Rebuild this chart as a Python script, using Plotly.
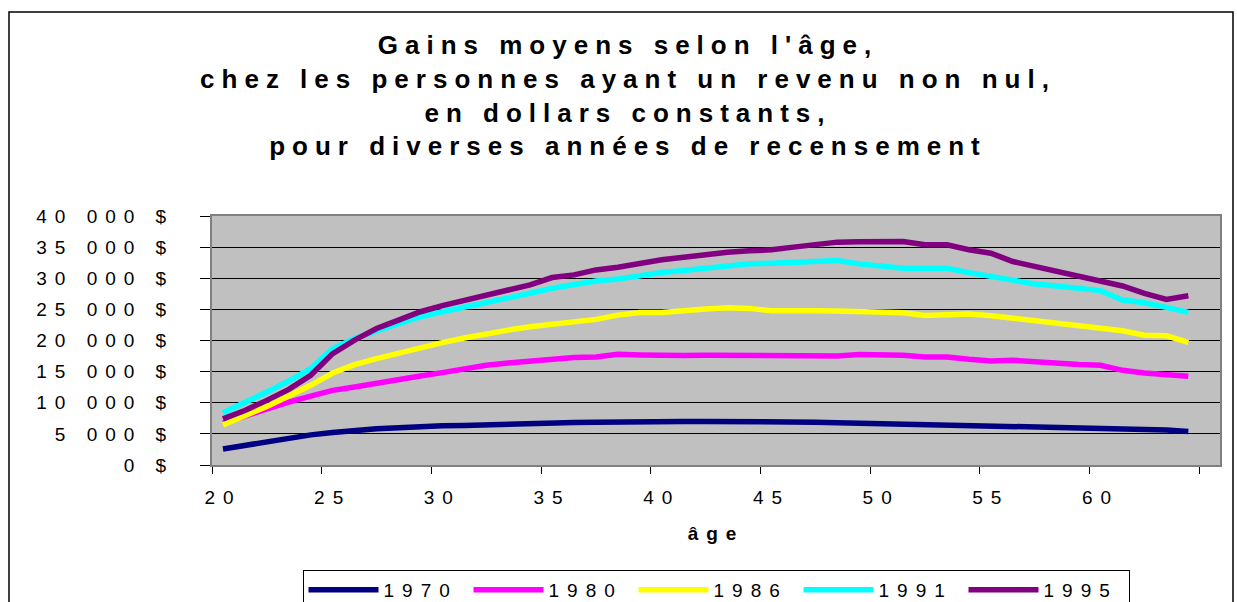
import plotly.graph_objects as go

ages = list(range(20, 65))

gains_1970 = [2580, 3170, 3760, 4300, 4840, 5210, 5540, 5810, 5970, 6180,
              6290, 6340, 6480, 6610, 6700, 6770, 6830, 6880, 6960, 7040,
              7040, 6990, 6990, 7000, 7000, 6990, 6940, 6880, 6800, 6720,
              6660, 6610, 6610, 6610, 6480, 6340, 6260, 6180, 6050, 5910,
              5860, 5810, 5720, 5640, 5380]
gains_1980 = [6720, 7900, 9030, 10110, 11070, 11990, 12530, 13170, 13760, 14300,
              14840, 15480, 16020, 16400, 16720, 16990, 17260, 17360, 17790, 17690,
              17530, 17580, 17630, 17630, 17470, 17630, 17530, 17630, 17530, 17740,
              17790, 17630, 17360, 17360, 16990, 16720, 16830, 16560, 16290, 16130,
              16020, 15210, 14780, 14520, 14250]
gains_1986 = [6450, 7850, 9410, 11070, 12800, 14780, 16130, 17100, 18010, 18820,
              19650, 20400, 21130, 21670, 22200, 22630, 23170, 23390, 24080, 24510,
              24510, 24890, 25050, 25270, 25160, 24780, 24890, 24780, 24730, 24620,
              24350, 24460, 24030, 24250, 24250, 23980, 23550, 23170, 22900, 22470,
              21830, 21560, 20860, 20750, 19680]
gains_1991 = [8390, 10000, 11720, 13490, 15480, 18710, 20320, 21560, 22740, 23820,
              24620, 25320, 26070, 26770, 27580, 28390, 29080, 29570, 29890, 30430,
              30910, 31230, 31610, 32150, 32310, 32420, 32580, 32520, 32850, 32310,
              31990, 31610, 31610, 31610, 30910, 30270, 29840, 29080, 28760, 28390,
              28010, 26500, 26070, 25320, 24510]
gains_1995 = [7420, 8760, 10380, 12150, 14410, 17900, 20050, 21930, 23280, 24620,
              25600, 26500, 27310, 28120, 28920, 30110, 30540, 31340, 31770, 32420,
              32960, 33380, 33870, 34190, 34400, 34570, 35000, 35480, 35800, 35850,
              35910, 35910, 35370, 35370, 34570, 34030, 32690, 31880, 31070, 30270,
              29460, 28760, 27580, 26610, 27200]

years = ["1970", "1980", "1986", "1991", "1995"]
colors = ["#000080", "#FF00FF", "#FFFF00", "#00FFFF", "#800080"]

y_ticks = [0, 5000, 10000, 15000, 20000, 25000, 30000, 35000, 40000]
y_labels = ["0 $", "5 000 $", "10 000 $", "15 000 $", "20 000 $",
            "25 000 $", "30 000 $", "35 000 $", "40 000 $"]
x_ticks = [20, 25, 30, 35, 40, 45, 50, 55, 60]

title_lines = [
    "Gains moyens selon l'âge,",
    "chez les personnes ayant un revenu non nul,",
    "en dollars constants,",
    "pour diverses années de recensement",
]

SANS = "Liberation Sans, Arial, sans-serif"


def spaced(text, px):
    return f'<span style="letter-spacing:{px}px">{text}</span>'


# pixel geometry of the plot area
L, R, T, B = 212, 1220, 216, 465


def px_x(p):
    return (p - L) / (R - L)


def px_y(p):
    return (B - p) / (B - T)


fig = go.Figure()
for yr, col, vals in zip(years, colors,
                         [gains_1970, gains_1980, gains_1986, gains_1991, gains_1995]):
    fig.add_trace(go.Scatter(
        x=ages, y=vals, mode="lines", name=spaced(yr, 8),
        line=dict(color=col, width=5.5),
    ))

fig.update_layout(
    width=1237, height=602,
    paper_bgcolor="white",
    plot_bgcolor="#C0C0C0",
    margin=dict(l=L, r=1237 - R, t=T, b=602 - B, autoexpand=False),
    font=dict(family=SANS, size=19, color="black"),
    title=dict(
        text="<br>".join(spaced(t, 7) for t in title_lines),
        font=dict(family=SANS, size=26, color="black", weight="bold"),
        x=628 / 1237, xanchor="center", xref="container",
        y=1 - 54 / 602, yanchor="top", yref="container",
    ),
    legend=dict(
        orientation="h", x=0.5, xanchor="center", y=px_y(570), yanchor="top",
        bordercolor="black", borderwidth=1, bgcolor="white",
        font=dict(family=SANS, size=19),
        entrywidth=80, itemwidth=70,
    ),
    showlegend=True,
)

fig.update_xaxes(
    range=[19.5, 19.5 + (R - L) / 21.94], automargin=False,
    tickmode="array", tickvals=x_ticks, ticktext=[spaced(str(v), 8) for v in x_ticks],
    ticks="", showgrid=False, zeroline=False, ticklabelstandoff=14,
    minor=dict(tickmode="array", tickvals=[19.5 + 5 * k for k in range(10)],
               ticks="outside", ticklen=7, tickcolor="black", showgrid=False),
    showline=True, linecolor="#808080", linewidth=2, mirror=True,
    title=dict(text=spaced("<b>âge</b>", 8), font=dict(size=19), standoff=20),
)
fig.update_yaxes(
    range=[0, 40000], automargin=False,
    tickmode="array", tickvals=y_ticks, ticktext=[spaced(t, 8) for t in y_labels],
    ticks="outside", ticklen=10, tickcolor="black",
    showgrid=True, gridcolor="black", gridwidth=1, zeroline=False,
    showline=True, linecolor="#808080", linewidth=2, mirror=True,
    ticklabelstandoff=22,
)

# outer chart frame
fig.add_shape(type="rect", xref="paper", yref="paper",
              x0=px_x(9), x1=px_x(1233), y0=px_y(615), y1=px_y(12),
              line=dict(color="black", width=1.5), fillcolor="rgba(0,0,0,0)", layer="below")

# the page's default body margin would shift the fixed-size chart
fig.write_html("out.html", config={"displayModeBar": False},
               post_script="document.body.style.margin='0';")
